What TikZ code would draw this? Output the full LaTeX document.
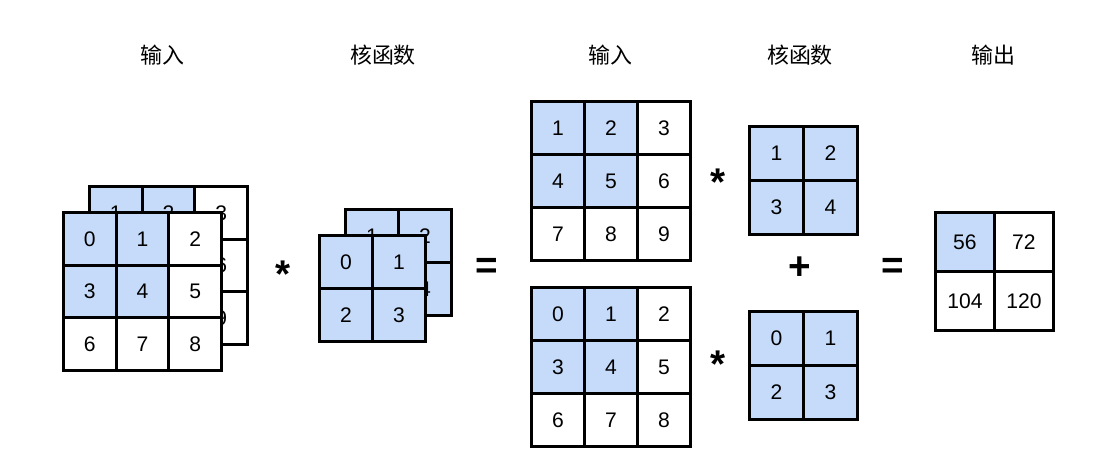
\documentclass[tikz,border=0pt]{standalone}
\usepackage{fontspec}
\setmainfont{Liberation Sans}
\newfontfamily\cjk{Noto Sans CJK SC}
\definecolor{cellblue}{HTML}{C6DBF9}
\tikzset{
  cell/.style={draw=black,line width=1.6pt,minimum size=#1*0.02cm,inner sep=0pt,font=\fontsize{12}{14}\selectfont},
  op/.style={font=\fontsize{22}{24}\selectfont\bfseries},
  title/.style={font=\cjk\fontsize{12.5}{15}\selectfont}
}
% grid: name, left x, top y (px), cell size (px), entries col/row/value/fill
\newcommand\mgrid[5]{%
  \foreach \c/\r/\v/\f in {#5}
    \node[cell=#4,fill=\f,anchor=north west] (#1-\r-\c) at ({#2+\c*#4},{#3+\r*#4}) {\v};
}
\begin{document}
\begin{tikzpicture}[x=0.02cm,y=-0.02cm]
\useasboundingbox (0,0) rectangle (1094,469);
\node[title] (t1) at (162,55) {输入};
\node[title] (t2) at (383,55) {核函数};
\node[title] (t3) at (610,55) {输入};
\node[title] (t4) at (800,55) {核函数};
\node[title] (t5) at (993,55) {输出};
% left stack
\mgrid{inb}{88}{185}{52.7}{0/0/1/cellblue,1/0/2/cellblue,2/0/3/white,0/1/4/cellblue,1/1/5/cellblue,2/1/6/white,0/2/7/white,1/2/8/white,2/2/9/white}
\mgrid{inf}{62}{211}{52.7}{0/0/0/cellblue,1/0/1/cellblue,2/0/2/white,0/1/3/cellblue,1/1/4/cellblue,2/1/5/white,0/2/6/white,1/2/7/white,2/2/8/white}
\node[op] (s1) at (283,274) {*};
\mgrid{kb}{344}{208}{53}{0/0/1/cellblue,1/0/2/cellblue,0/1/3/cellblue,1/1/4/cellblue}
\mgrid{kf}{318}{234}{53}{0/0/0/cellblue,1/0/1/cellblue,0/1/2/cellblue,1/1/3/cellblue}
\node[op] (e1) at (487,268) {=};
% right side
\mgrid{ia}{530}{100}{53}{0/0/1/cellblue,1/0/2/cellblue,2/0/3/white,0/1/4/cellblue,1/1/5/cellblue,2/1/6/white,0/2/7/white,1/2/8/white,2/2/9/white}
\mgrid{ib}{530}{286}{53}{0/0/0/cellblue,1/0/1/cellblue,2/0/2/white,0/1/3/cellblue,1/1/4/cellblue,2/1/5/white,0/2/6/white,1/2/7/white,2/2/8/white}
\node[op] (s2) at (718,182) {*};
\node[op] (s3) at (718,364) {*};
\mgrid{ka}{748}{125}{54}{0/0/1/cellblue,1/0/2/cellblue,0/1/3/cellblue,1/1/4/cellblue}
\mgrid{kc}{748}{310}{54}{0/0/0/cellblue,1/0/1/cellblue,0/1/2/cellblue,1/1/3/cellblue}
\node[op] (p1) at (800,268) {+};
\node[op] (e2) at (893,268) {=};
\mgrid{out}{934}{211}{59}{0/0/56/cellblue,1/0/72/white,0/1/104/white,1/1/120/white}
\end{tikzpicture}
\end{document}
